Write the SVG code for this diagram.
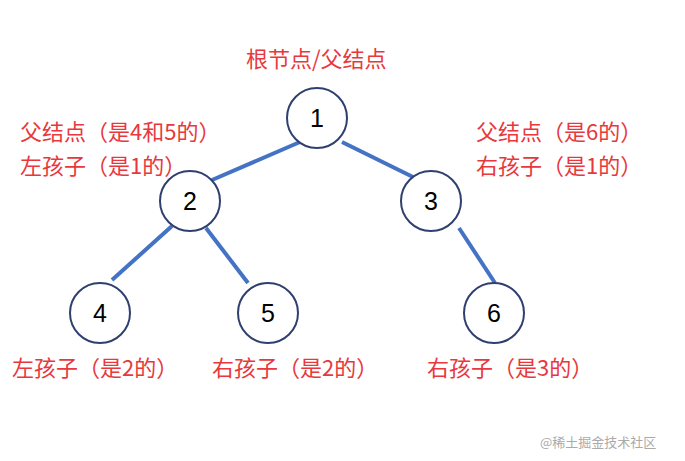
<svg xmlns="http://www.w3.org/2000/svg" width="685" height="461" viewBox="0 0 685 461">
<style>
.n{fill:#fff;stroke:#2F3F6F;stroke-width:2}
.nt{font-family:"Liberation Sans","Noto Sans CJK SC",sans-serif;font-size:25px;fill:#000;text-anchor:middle}
.l{font-family:"Noto Sans CJK SC",sans-serif;font-size:22px;fill:#E8383D}
.e{stroke:#4472C4;stroke-width:4;fill:none}
</style>
<rect width="685" height="461" fill="#fff"/>
<g id="connectors">
<line class="e" x1="300" y1="142" x2="212" y2="180"/>
<line class="e" x1="342" y1="142" x2="415" y2="178"/>
<line class="e" x1="172" y1="226" x2="112" y2="280"/>
<line class="e" x1="206" y1="228" x2="248" y2="283"/>
<line class="e" x1="459" y1="228" x2="495" y2="283"/>
</g>
<g id="n1"><circle class="n" cx="317" cy="118" r="30"/><text class="nt" x="317" y="127">1</text></g>
<g id="n2"><circle class="n" cx="190" cy="201" r="30"/><text class="nt" x="190" y="210">2</text></g>
<g id="n3"><circle class="n" cx="431" cy="201" r="30"/><text class="nt" x="431" y="210">3</text></g>
<g id="n4"><circle class="n" cx="100" cy="313" r="30"/><text class="nt" x="100" y="322">4</text></g>
<g id="n5"><circle class="n" cx="268" cy="313" r="30"/><text class="nt" x="268" y="322">5</text></g>
<g id="n6"><circle class="n" cx="494" cy="313" r="30"/><text class="nt" x="494" y="322">6</text></g>
<g id="labels">
<text class="l" x="246" y="67">根节点/父结点</text>
<text class="l" x="20" y="140">父结点（是4和5的）</text>
<text class="l" x="20" y="174">左孩子（是1的）</text>
<text class="l" x="476" y="140">父结点（是6的）</text>
<text class="l" x="476" y="174">右孩子（是1的）</text>
<text class="l" x="12" y="376">左孩子（是2的）</text>
<text class="l" x="212" y="376">右孩子（是2的）</text>
<text class="l" x="427" y="376">右孩子（是3的）</text>
</g>
<text x="540" y="447" font-family="Noto Sans CJK SC,sans-serif" font-size="13" fill="#aaa">@稀土掘金技术社区</text>
</svg>
